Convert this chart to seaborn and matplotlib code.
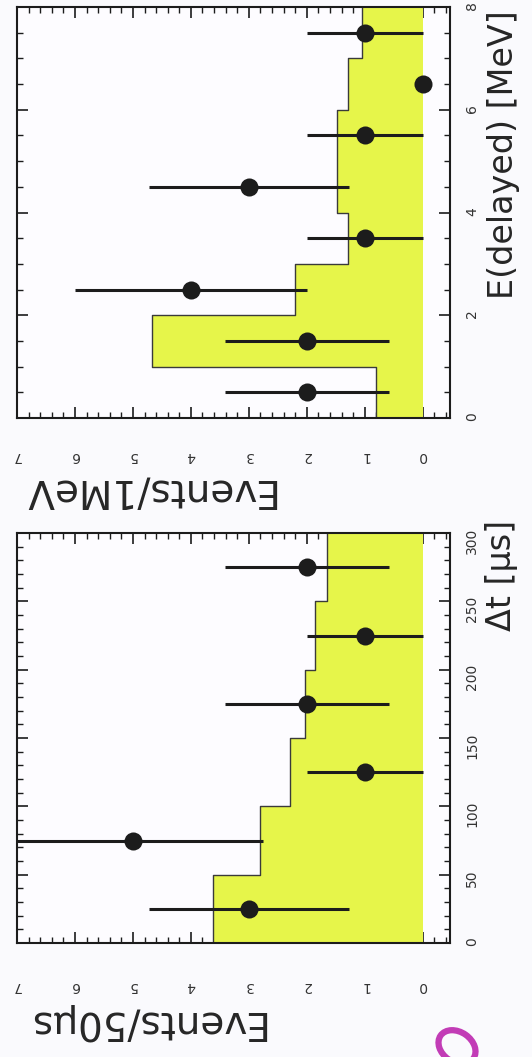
import matplotlib
matplotlib.use('Agg')
import matplotlib.pyplot as plt
import seaborn as sns
from matplotlib.patches import Ellipse
from matplotlib.ticker import MultipleLocator

# E(delayed) panel, 1 MeV bins
e_edges = [0, 1, 2, 3, 4, 5, 6, 7, 8]
e_centers = [0.5, 1.5, 2.5, 3.5, 4.5, 5.5, 6.5, 7.5]
e_counts = [2, 2, 4, 1, 3, 1, 0, 1]
e_errors = [1.41, 1.41, 2.0, 1.0, 1.73, 1.0, 0.0, 1.0]
e_bkg = [0.80, 4.67, 2.20, 1.29, 1.48, 1.48, 1.29, 1.05]

# delta t panel, 50 us bins
dt_edges = [0, 50, 100, 150, 200, 250, 300]
dt_centers = [25, 75, 125, 175, 225, 275]
dt_counts = [3, 5, 1, 2, 1, 2]
dt_errors = [1.73, 2.24, 1.0, 1.41, 1.0, 1.41]
dt_bkg = [3.62, 2.81, 2.29, 2.03, 1.86, 1.66]

BG = '#fafafd'
YELLOW = '#e6f54a'
INK = '#1c1c1c'

sns.set_style('ticks')
plt.rcParams['font.family'] = ['DejaVu Sans']

W, H = 532, 1057
fig = plt.figure(figsize=(W / 100, H / 100), dpi=100, facecolor=BG)
ax_e = fig.add_axes([17 / W, 1 - 418 / H, 433 / W, 411 / H])
ax_t = fig.add_axes([17 / W, 1 - 943 / H, 433 / W, 410 / H])


def draw_panel(ax, centers, counts, errors, edges, bkg):
    # expected background as a filled horizontal step histogram
    sns.histplot(y=centers, weights=bkg, bins=edges, element='step', fill=True,
                 color=YELLOW, alpha=1, linewidth=0, ax=ax)
    sns.histplot(y=centers, weights=bkg, bins=edges, element='step', fill=False,
                 color='#3a3a3a', linewidth=1.0, ax=ax)
    # observed events
    ax.errorbar(counts, centers, xerr=errors, fmt='o', color=INK, ms=13,
                mew=0, elinewidth=2.2, capsize=0, zorder=5, clip_on=True)
    ax.set_facecolor('#fdfcff')
    ax.set_xlim(7, -0.47)
    ax.set_ylim(edges[0], edges[-1])
    ax.xaxis.set_major_locator(MultipleLocator(1))
    ax.xaxis.set_minor_locator(MultipleLocator(0.2))
    for s in ax.spines.values():
        s.set_visible(True)
        s.set_linewidth(1.5)
        s.set_color(INK)
    ax.tick_params(which='both', direction='in', top=True, bottom=True,
                   left=True, right=True, labelleft=False, labelright=True,
                   labeltop=False, labelbottom=True, color=INK, labelcolor='#333')
    ax.tick_params(which='major', length=8, width=1.2, labelsize=10)
    ax.tick_params(which='minor', length=4, width=1.0)
    ax.tick_params(axis='x', which='major', labelrotation=180, pad=22)
    ax.tick_params(axis='y', which='major', labelrotation=90, pad=11)
    ax.yaxis.set_label_position('right')


draw_panel(ax_e, e_centers, e_counts, e_errors, e_edges, e_bkg)
ax_e.yaxis.set_major_locator(MultipleLocator(2))
ax_e.yaxis.set_minor_locator(MultipleLocator(0.5))
ax_e.set_xlabel('Events/1MeV', fontsize=28, rotation=180, ha='left', va='center')
ax_e.xaxis.set_label_coords((20 - 17) / 433, (418 - 490) / 411)
ax_e.set_ylabel('E(delayed) [MeV]', fontsize=24, rotation=90, ha='right', va='center')
ax_e.yaxis.set_label_coords((503 - 17) / 433, (418 - 10) / 411)

draw_panel(ax_t, dt_centers, dt_counts, dt_errors, dt_edges, dt_bkg)
ax_t.yaxis.set_major_locator(MultipleLocator(50))
ax_t.yaxis.set_minor_locator(MultipleLocator(10))
ax_t.tick_params(axis='x', which='major', pad=26)
ax_t.set_xlabel('Events/50μs', fontsize=28, rotation=180, ha='left', va='center')
ax_t.xaxis.set_label_coords((25 - 17) / 433, (943 - 1022) / 410)
ax_t.set_ylabel('Δt [μs]', fontsize=24, rotation=90, ha='right', va='center')
ax_t.yaxis.set_label_coords((502 - 17) / 433, (943 - 520) / 410)

# stray magenta ring at the bottom edge of the scan
fig.add_artist(Ellipse((4.57, 0.10), 0.40, 0.30, angle=-35,
                       transform=fig.dpi_scale_trans, fill=False,
                       edgecolor='#c23cb6', lw=4.5))

fig.savefig('out.png', dpi=100, facecolor=BG)
